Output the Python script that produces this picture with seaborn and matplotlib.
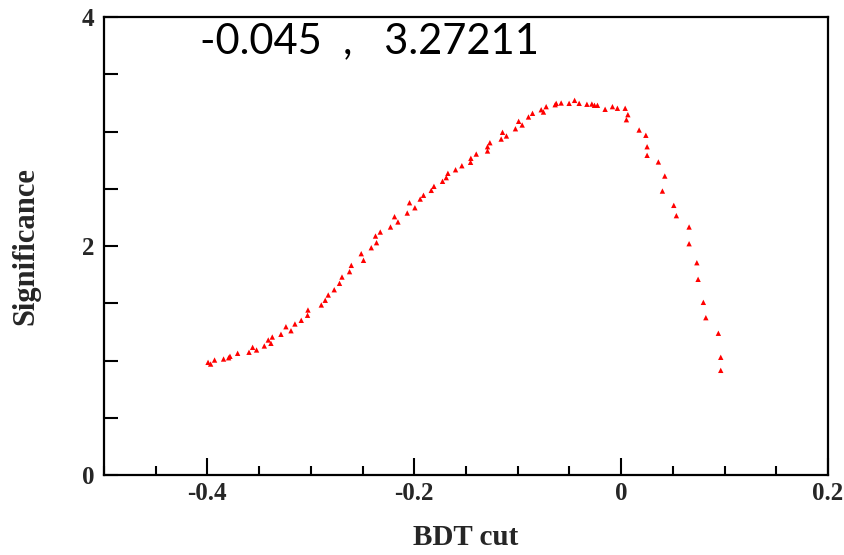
import matplotlib
matplotlib.use("Agg")
import matplotlib.pyplot as plt
from matplotlib.ticker import MultipleLocator, FixedLocator
import seaborn as sns
import pandas as pd

# BDT cut values and significance
bdt_cut = [
    -0.3994, -0.3969, -0.3931, -0.3844, -0.3795, -0.3782, -0.3708, -0.3598, -0.3563, -0.3525,
    -0.3450, -0.3412, -0.3386, -0.3373, -0.3289, -0.3241, -0.3192, -0.3154, -0.3093, -0.3032,
    -0.3028, -0.2899, -0.2861, -0.2832, -0.2774, -0.2723, -0.2699, -0.2626, -0.2609, -0.2513,
    -0.2491, -0.2416, -0.2375, -0.2365, -0.2329, -0.2230, -0.2191, -0.2158, -0.2068, -0.2046,
    -0.1994, -0.1943, -0.1911, -0.1836, -0.1810, -0.1727, -0.1691, -0.1675, -0.1601, -0.1540,
    -0.1456, -0.1453, -0.1401, -0.1292, -0.1292, -0.1269, -0.1160, -0.1147, -0.1109, -0.1022,
    -0.0991, -0.0957, -0.0896, -0.0857, -0.0773, -0.0751, -0.0725, -0.0638, -0.0628, -0.0580,
    -0.0503, -0.0450, -0.0406, -0.0331, -0.0283, -0.0258, -0.0229, -0.0155, -0.0084, -0.0036,
    0.0039, 0.0065, 0.0051, 0.0174, 0.0239, 0.0251, 0.0251, 0.0360, 0.0422, 0.0399,
    0.0509, 0.0534, 0.0657, 0.0657, 0.0732, 0.0744, 0.0795, 0.0819, 0.0940, 0.0963,
    0.0963,
]
significance = [
    0.984, 0.969, 1.004, 1.013, 1.024, 1.037, 1.063, 1.072, 1.115, 1.092,
    1.127, 1.179, 1.150, 1.205, 1.229, 1.295, 1.260, 1.319, 1.351, 1.395,
    1.441, 1.485, 1.526, 1.572, 1.618, 1.674, 1.729, 1.776, 1.831, 1.933,
    1.875, 1.985, 2.087, 2.029, 2.122, 2.166, 2.256, 2.210, 2.288, 2.378,
    2.334, 2.410, 2.443, 2.486, 2.521, 2.565, 2.597, 2.635, 2.666, 2.701,
    2.731, 2.766, 2.803, 2.830, 2.867, 2.902, 2.934, 2.993, 2.961, 3.024,
    3.089, 3.057, 3.127, 3.159, 3.190, 3.170, 3.217, 3.234, 3.246, 3.249,
    3.246, 3.2721, 3.246, 3.238, 3.240, 3.229, 3.229, 3.194, 3.217, 3.203,
    3.203, 3.147, 3.103, 3.013, 2.967, 2.867, 2.792, 2.734, 2.611, 2.480,
    2.355, 2.265, 2.166, 2.020, 1.854, 1.709, 1.508, 1.374, 1.238, 1.028,
    0.914,
]
x_ticks = [-0.4, -0.2, 0, 0.2]
x_tick_labels = ["-0.4", "-0.2", "0", "0.2"]
y_ticks = [0, 2, 4]
y_tick_labels = ["0", "2", "4"]
annotation = "-0.045  ,   3.27211"

df = pd.DataFrame({"BDT cut": bdt_cut, "Significance": significance})

sns.set_style("ticks")
plt.rcParams["font.family"] = ["Liberation Serif", "DejaVu Serif"]

fig = plt.figure(figsize=(8.44, 5.55), dpi=100)
ax = fig.add_axes([104 / 844, 1 - 475 / 555, 724 / 844, 458 / 555])

sns.scatterplot(data=df, x="BDT cut", y="Significance", ax=ax,
                marker="^", s=15, color="#ff0000", edgecolor="none", linewidth=0)

ax.set_xlim(-0.5, 0.2)
ax.set_ylim(0, 4)
ax.xaxis.set_major_locator(FixedLocator(x_ticks))
ax.set_xticklabels(x_tick_labels)
ax.xaxis.set_minor_locator(MultipleLocator(0.05))
ax.yaxis.set_major_locator(FixedLocator(y_ticks))
ax.set_yticklabels(y_tick_labels)
ax.yaxis.set_minor_locator(MultipleLocator(0.5))

for s in ax.spines.values():
    s.set_visible(True)
    s.set_linewidth(1.6)
    s.set_color("black")

ax.tick_params(axis="both", which="both", direction="in", top=False, right=False,
               width=1.5, color="black")
ax.tick_params(axis="x", which="major", length=12, pad=5)
ax.tick_params(axis="x", which="minor", length=6.5)
ax.tick_params(axis="y", which="major", length=10, pad=7)
ax.tick_params(axis="y", which="minor", length=10)
for lab in ax.get_xticklabels() + ax.get_yticklabels():
    lab.set_fontsize(18)
    lab.set_fontweight("bold")

ax.set_xlabel("BDT cut", fontsize=21, fontweight="bold")
ax.set_ylabel("Significance", fontsize=22, fontweight="bold")
ax.xaxis.set_label_coords(0.5, -0.108)
ax.yaxis.set_label_coords(-0.088, 0.5)

ax.text(0.1326, 0.947, annotation, transform=ax.transAxes, ha="left", va="center",
        fontsize=30, family=["Lato", "DejaVu Sans"], color="black")

fig.savefig("out.png", dpi=100, facecolor="white")
